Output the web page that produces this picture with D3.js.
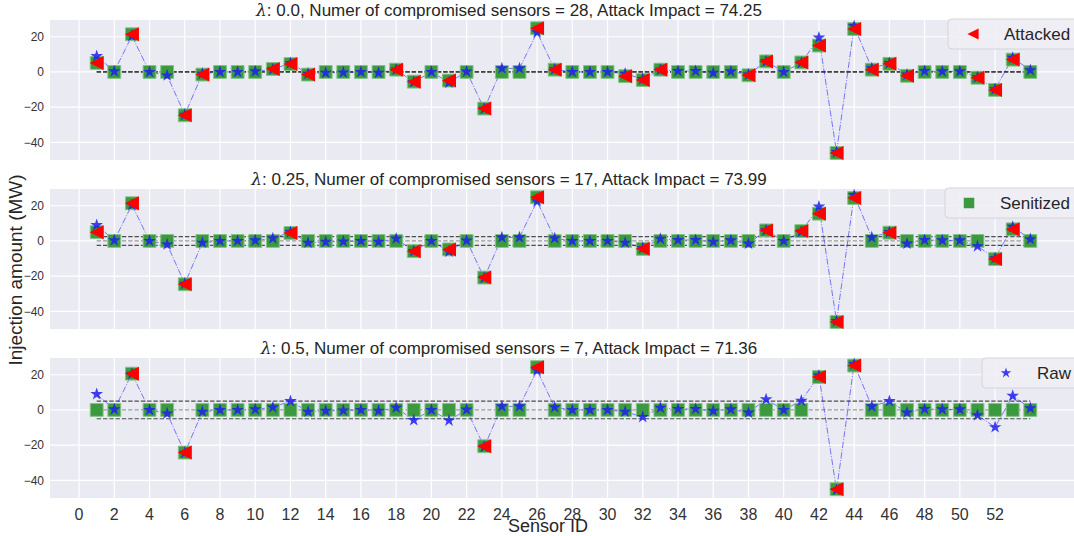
<!DOCTYPE html>
<html>
<head>
<meta charset="utf-8">
<script src="https://cdn.jsdelivr.net/npm/d3@7"></script>
<style>
  body { margin: 0; background: #fff; }
  svg { display: block; font-family: "Liberation Sans", Arial, sans-serif; }
</style>
</head>
<body>
<div id="chart"></div>
<script>
// sensor ids on the x axis
const sensorIds = [1,2,3,4,5,6,7,8,9,10,11,12,13,14,15,16,17,18,19,20,21,22,23,24,25,26,27,
  28,29,30,31,32,33,34,35,36,37,38,39,40,41,42,43,44,45,46,47,48,49,50,51,52,53,54];

// raw injection (blue stars), same in every panel
const rawValues = [9,0.3,20.5,0,-2,-24.3,-1,0,0,0.3,1.5,5,-1,-0.5,-0.3,0,-0.5,1.3,-5.8,0,
  -6,0.2,-21,2,2,22.5,1.5,0,0,0,-1,-4,1.2,0.5,0.5,-0.5,0.3,-1.5,6,0,
  5.2,19.5,-45.5,26,2,5,-1.5,0.5,0.3,0.3,-3,-9.8,8,1];

// panel titles
const lambdas = ["0.0", "0.25", "0.5"];
const compromised = [28, 17, 7];
const impacts = ["74.25", "73.99", "71.36"];
const thresholds = [0, 2.5, 5];

// attacked sensors (red triangles) per panel
const attackedIds1 = [1,3,6,7,11,12,13,18,19,21,23,26,27,31,32,33,38,39,41,42,43,44,45,46,47,51,52,53];
const attackedVals1 = [5.1,21.4,-24.6,-1.5,1.7,4.5,-1.5,1.3,-5.5,-4.9,-20.8,24.8,1.3,-2.4,-4.6,1.3,
  -1.9,6,5.4,15,-46,24.4,1.3,4.6,-2.2,-3.3,-10.2,7];
const attackedIds2 = [1,3,6,12,19,21,23,26,32,39,41,42,43,44,46,52,53];
const attackedVals2 = [5,21.4,-24.6,4.5,-5.8,-4.8,-20.8,24.8,-4.5,6,5.6,15.5,-46,24.4,4.7,-10.3,6.6];
const attackedIds3 = [3,6,23,26,42,43,44];
const attackedVals3 = [20.6,-24.2,-20.6,24.3,18.7,-45,25.2];

// sanitized values (green squares) per panel
const sanitized1 = [5.1,0,21.4,0,0,-24.6,-1.5,0,0,0,1.7,4.5,-1.5,0,0,0,0,1.3,-5.5,0,
  -4.9,0,-20.8,0,0,24.8,1.3,0,0,0,-2.4,-4.6,1.3,0,0,0,0,-1.9,6,0,
  5.4,15,-46,24.4,1.3,4.6,-2.2,0,0,0,-3.3,-10.2,7,0];
const sanitized2 = [5,0,21.4,0,0,-24.6,0,0,0,0,0,4.5,0,0,0,0,0,0,-5.8,0,
  -4.8,0,-20.8,0,0,24.8,0,0,0,0,0,-4.5,0,0,0,0,0,0,6,0,
  5.6,15.5,-46,24.4,0,4.7,0,0,0,0,0,-10.3,6.6,0];
const sanitized3 = [0,0,20.6,0,0,-24.2,0,0,0,0,0,0,0,0,0,0,0,0,0,0,
  0,0,-20.6,0,0,24.3,0,0,0,0,0,0,0,0,0,0,0,0,0,0,
  0,18.7,-45,25.2,0,0,0,0,0,0,0,0,0,0];

const xTicks = [0,2,4,6,8,10,12,14,16,18,20,22,24,26,28,30,32,34,36,38,40,42,44,46,48,50,52];
const yTicks = [-40,-20,0,20];
const legendLabels = ["Attacked", "Senitized", "Raw"];

const panels = [
  { ids: attackedIds1, vals: attackedVals1, san: sanitized1 },
  { ids: attackedIds2, vals: attackedVals2, san: sanitized2 },
  { ids: attackedIds3, vals: attackedVals3, san: sanitized3 }
];

const W = 1074, H = 536;
const left = 50, right = 1077;
const panelTop = [20, 189, 358], panelH = 140;

const svg = d3.select("#chart").append("svg")
  .attr("width", W).attr("height", H);

const x = d3.scaleLinear().domain([-1.65, 56.65]).range([left, right]);

const triLeft = "M-7,0L7,-7L7,7Z";
const star = d3.symbol().type(d3.symbolStar).size(50);
const starSmall = d3.symbol().type(d3.symbolStar).size(34);
const square = d3.symbol().type(d3.symbolSquare).size(165);

panels.forEach((p, i) => {
  const top = panelTop[i];
  const y = d3.scaleLinear().domain([-50, 29.5]).range([top + panelH, top]);
  const g = svg.append("g");

  g.append("rect")
    .attr("x", left).attr("y", top)
    .attr("width", right - left).attr("height", panelH)
    .attr("fill", "#eaeaf2");

  // grid
  g.selectAll(".xg").data(xTicks).join("line")
    .attr("x1", d => x(d)).attr("x2", d => x(d))
    .attr("y1", top).attr("y2", top + panelH)
    .attr("stroke", "#fff").attr("stroke-width", 1.2);
  g.selectAll(".yg").data(yTicks).join("line")
    .attr("x1", left).attr("x2", right)
    .attr("y1", d => y(d)).attr("y2", d => y(d))
    .attr("stroke", "#fff").attr("stroke-width", 1.2);

  // y tick labels
  g.selectAll(".yl").data(yTicks).join("text")
    .attr("x", left - 6).attr("y", d => y(d))
    .attr("dy", "0.35em")
    .attr("text-anchor", "end")
    .attr("font-size", 12).attr("fill", "#333")
    .text(d => d < 0 ? "\u2212" + Math.abs(d) : d);

  // threshold lines
  const x0 = x(sensorIds[0]), x1 = x(sensorIds[sensorIds.length - 1]);
  g.append("line")
    .attr("x1", x0).attr("x2", x1).attr("y1", y(0)).attr("y2", y(0))
    .attr("stroke", "#999").attr("stroke-width", 1.2).attr("stroke-dasharray", "4.4,1.9");
  [thresholds[i], -thresholds[i]].forEach(t => {
    g.append("line")
      .attr("x1", x0).attr("x2", x1).attr("y1", y(t)).attr("y2", y(t))
      .attr("stroke", "#333").attr("stroke-width", 1.2).attr("stroke-dasharray", "4.4,1.9")
      .attr("opacity", 0.85);
  });

  // raw line
  const line = d3.line().x((d, k) => x(sensorIds[k])).y(d => y(d));
  g.append("path")
    .attr("d", line(rawValues))
    .attr("fill", "none")
    .attr("stroke", "rgba(0,0,255,0.5)")
    .attr("stroke-width", 1)
    .attr("stroke-dasharray", "6.4,1.6,1,1.6");

  // sanitized squares
  g.selectAll(".sq").data(p.san).join("path")
    .attr("transform", (d, k) => `translate(${x(sensorIds[k])},${y(d)})`)
    .attr("d", square)
    .attr("fill", "#3b9a3e")
    .attr("stroke", "#86c488").attr("stroke-width", 1);

  // raw stars
  g.selectAll(".st").data(rawValues).join("path")
    .attr("transform", (d, k) => `translate(${x(sensorIds[k])},${y(d)})`)
    .attr("d", star)
    .attr("fill", "#2020f0").attr("fill-opacity", 0.85);

  // attacked triangles
  g.selectAll(".tr").data(p.ids).join("path")
    .attr("transform", (d, k) => `translate(${x(d)},${y(p.vals[k])})`)
    .attr("d", triLeft)
    .attr("fill", "#ff0000");

  // title
  g.append("text")
    .attr("x", 509).attr("y", top - 4)
    .attr("text-anchor", "middle")
    .attr("font-size", 17).attr("fill", "#262626")
    .html(`<tspan font-style="italic" font-family="DejaVu Serif, serif">\u03bb</tspan>: ${lambdas[i]}, Numer of compromised sensors = ${compromised[i]}, Attack Impact = ${impacts[i]}`);
});

// legends
const legendBoxes = [
  { x: 948, y: 19, mx: 973, tx: 1004 },
  { x: 945, y: 188, mx: 969, tx: 1000 },
  { x: 982, y: 358, mx: 1006, tx: 1037 }
];
legendBoxes.forEach((b, i) => {
  const lg = svg.append("g");
  lg.append("rect")
    .attr("x", b.x).attr("y", b.y).attr("width", 150).attr("height", 30)
    .attr("rx", 4)
    .attr("fill", "#eeeef4").attr("fill-opacity", 0.9)
    .attr("stroke", "#d4d4d8").attr("stroke-width", 1);
  const cy = b.y + 15;
  if (i === 0) {
    lg.append("path").attr("transform", `translate(${b.mx},${cy}) scale(0.8)`)
      .attr("d", triLeft).attr("fill", "#ff0000");
  } else if (i === 1) {
    lg.append("path").attr("transform", `translate(${b.mx},${cy})`)
      .attr("d", d3.symbol().type(d3.symbolSquare).size(110)).attr("fill", "#3b9a3e");
  } else {
    lg.append("path").attr("transform", `translate(${b.mx},${cy})`)
      .attr("d", starSmall).attr("fill", "#2020f0").attr("fill-opacity", 0.85);
  }
  lg.append("text")
    .attr("x", b.tx).attr("y", cy).attr("dy", "0.35em")
    .attr("font-size", 17).attr("fill", "#262626")
    .text(legendLabels[i]);
});

// x tick labels (bottom panel only)
const bottom = panelTop[2] + panelH;
svg.selectAll(".xl").data(xTicks).join("text")
  .attr("x", d => x(d)).attr("y", bottom + 16)
  .attr("dy", "0.35em")
  .attr("text-anchor", "middle")
  .attr("font-size", 16).attr("fill", "#333")
  .text(d => d);

// axis labels
svg.append("text")
  .attr("x", 548).attr("y", 532)
  .attr("text-anchor", "middle")
  .attr("font-size", 18).attr("fill", "#262626")
  .text("Sensor ID");

svg.append("text")
  .attr("transform", "translate(22,270) rotate(-90)")
  .attr("text-anchor", "middle")
  .attr("font-size", 19).attr("fill", "#262626")
  .text("Injection amount (MW)");
</script>
</body>
</html>
